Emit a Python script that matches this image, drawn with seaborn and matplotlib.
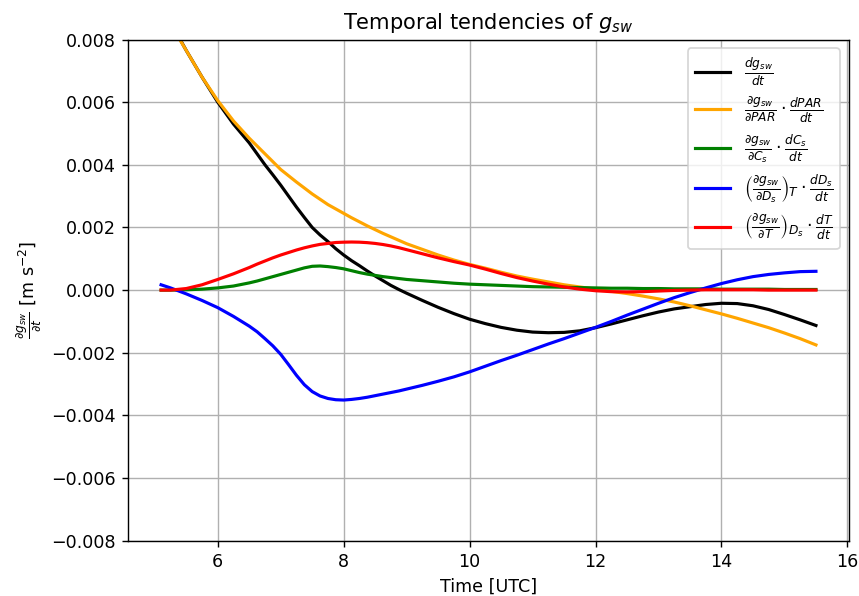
import numpy as np
import pandas as pd
import matplotlib
matplotlib.use("Agg")
import matplotlib.pyplot as plt
import seaborn as sns

# Time axis [UTC hours]; finer spacing through the morning transition
time = [5.1, 5.25, 5.5, 5.75, 6.0, 6.25,
        6.5, 6.625, 6.75, 6.875, 7.0, 7.125, 7.25, 7.375, 7.5, 7.625, 7.75,
        7.875, 8.0, 8.125, 8.25, 8.375, 8.5, 8.625, 8.75, 8.875, 9.0,
        9.25, 9.5, 9.75, 10.0, 10.25, 10.5, 10.75, 11.0, 11.25, 11.5, 11.75,
        12.0, 12.25, 12.5, 12.75, 13.0, 13.25, 13.5, 13.75, 14.0, 14.25,
        14.5, 14.75, 15.0, 15.25, 15.5]

# Tendency terms, in units of 1e-3 m s^-2
total = [9.1, 8.55, 7.65, 6.8, 6.0, 5.3,
         4.7, 4.35, 4.0, 3.68, 3.35, 3.0, 2.65, 2.32, 2.0, 1.76, 1.55, 1.32,
         1.12, 0.94, 0.78, 0.61, 0.45, 0.30, 0.15, 0.02, -0.10,
         -0.33, -0.55, -0.75, -0.93, -1.07, -1.19, -1.28, -1.34, -1.36,
         -1.35, -1.30, -1.20, -1.08, -0.95, -0.82, -0.70, -0.60, -0.53,
         -0.46, -0.42, -0.43, -0.50, -0.62, -0.78, -0.95, -1.13]
par_term = [9.0, 8.5, 7.65, 6.8, 6.05, 5.4,
            4.85, 4.6, 4.35, 4.1, 3.85, 3.65, 3.45, 3.26, 3.07, 2.9, 2.73,
            2.59, 2.45, 2.31, 2.18, 2.05, 1.93, 1.81, 1.70, 1.59, 1.48,
            1.30, 1.12, 0.96, 0.82, 0.70, 0.57, 0.45, 0.35, 0.26, 0.17, 0.10,
            0.03, -0.04, -0.11, -0.19, -0.28, -0.38, -0.50, -0.63, -0.76,
            -0.90, -1.05, -1.20, -1.37, -1.55, -1.75]
cs_term = [0.0, 0.0, 0.01, 0.03, 0.07, 0.13,
           0.23, 0.29, 0.36, 0.43, 0.50, 0.57, 0.64, 0.71, 0.76, 0.77, 0.75,
           0.72, 0.68, 0.62, 0.56, 0.51, 0.47, 0.43, 0.40, 0.37, 0.34,
           0.30, 0.26, 0.22, 0.19, 0.17, 0.15, 0.13, 0.11, 0.10, 0.09, 0.08,
           0.07, 0.06, 0.06, 0.05, 0.05, 0.04, 0.04, 0.04, 0.03, 0.03, 0.03,
           0.03, 0.02, 0.02, 0.02]
ds_term = [0.17, 0.07, -0.12, -0.33, -0.56, -0.84,
           -1.15, -1.33, -1.55, -1.78, -2.05, -2.38, -2.72, -3.02, -3.24,
           -3.38, -3.46, -3.50, -3.51, -3.49, -3.46, -3.42, -3.37, -3.32,
           -3.27, -3.22, -3.16,
           -3.04, -2.91, -2.77, -2.61, -2.43, -2.25, -2.08, -1.90, -1.72,
           -1.55, -1.37, -1.19, -1.00, -0.80, -0.61, -0.42, -0.24, -0.08,
           0.07, 0.21, 0.33, 0.43, 0.50, 0.55, 0.59, 0.60]
t_term = [0.0, 0.0, 0.05, 0.17, 0.34, 0.52,
          0.72, 0.83, 0.93, 1.03, 1.12, 1.20, 1.28, 1.35, 1.41, 1.46, 1.49,
          1.52, 1.53, 1.535, 1.53, 1.515, 1.49, 1.455, 1.41, 1.355, 1.29,
          1.16, 1.03, 0.91, 0.80, 0.67, 0.53, 0.40, 0.29, 0.19, 0.10, 0.03,
          -0.02, -0.05, -0.06, -0.05, -0.03, -0.01, 0.0, 0.01, 0.01, 0.01,
          0.01, 0.0, 0.0, 0.0, 0.0]
scale = 1e-3

labels = [
    r'$\frac{dg_{sw}}{dt}$',
    r'$\frac{\partial g_{sw}}{\partial PAR} \cdot \frac{dPAR}{dt}$',
    r'$\frac{\partial g_{sw}}{\partial C_s} \cdot \frac{dC_s}{dt}$',
    r'$\left(\frac{\partial g_{sw}}{\partial D_s}\right)_T \cdot \frac{dD_s}{dt}$',
    r'$\left(\frac{\partial g_{sw}}{\partial T}\right)_{D_s} \cdot \frac{dT}{dt}$',
]
colors = ["black", "orange", "green", "blue", "red"]
series = [total, par_term, cs_term, ds_term, t_term]

yticks = [-0.008, -0.006, -0.004, -0.002, 0.0, 0.002, 0.004, 0.006, 0.008]
xticks = [6, 8, 10, 12, 14, 16]

fig, ax = plt.subplots(figsize=(859 / 126, 596 / 126), dpi=126)
fig.subplots_adjust(left=0.1494, right=0.988, bottom=0.0928, top=0.9337)

for vals, col, lab in zip(series, colors, labels):
    df = pd.DataFrame({"time": time, "value": np.array(vals) * scale})
    sns.lineplot(data=df, x="time", y="value", color=col, label=lab,
                 linewidth=1.8, ax=ax)

ax.set_ylim(-0.008, 0.008)
ax.set_yticks(yticks)
ax.set_xticks(xticks)
ax.grid(True, color="#b0b0b0", linewidth=0.8)
ax.set_axisbelow(True)

ax.set_title(r"Temporal tendencies of $g_{sw}$")
ax.set_xlabel("Time [UTC]")
ax.set_ylabel(r"$\frac{\partial g_{sw}}{\partial t}$ [m s$^{-2}$]")
ax.legend(loc="upper right", fontsize=10, labelspacing=0.4)

fig.savefig("out.png", dpi=126)
